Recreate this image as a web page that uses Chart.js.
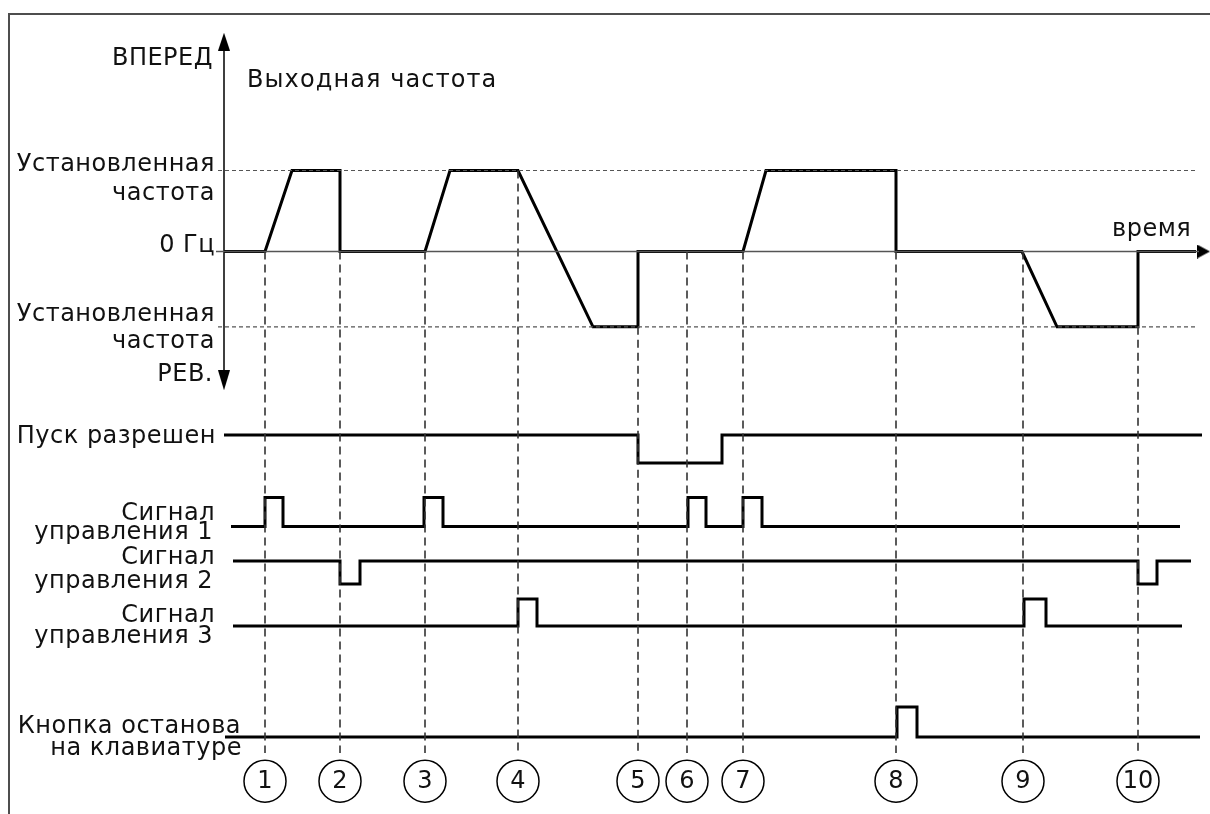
<!DOCTYPE html>
<html>
<head>
<meta charset="utf-8">
<script src="https://cdn.jsdelivr.net/npm/chart.js@4"></script>
<style>
  body { margin: 0; background: #fff; }
  #wrap { position: relative; width: 1210px; height: 814px; }
  #frame { position: absolute; left: 8px; top: 13px; right: -4px; bottom: -4px; border-top: 2px solid #4d4d4d; border-left: 2px solid #4d4d4d; pointer-events: none; }
</style>
</head>
<body>
<div id="wrap"><canvas id="diagram"></canvas><div id="frame"></div></div>
<script>
// моменты событий 1..10 (условные единицы времени от оси)
const eventTimes = [4.1, 11.6, 20.1, 29.4, 41.4, 46.3, 51.9, 67.2, 79.9, 91.4];
const eventNames = ['1', '2', '3', '4', '5', '6', '7', '8', '9', '10'];
// уровень частоты, с которого начинается пунктир события
const eventTop = [0, 0, 0, 1, -0.93, 0, 0, 0, 0, -0.93];

// выходная частота (1 = установленная частота вперед, отрицательное = реверс)
const setFreq = 1;
const revFreq = -0.93;
const freqTime  = [0, 4.1, 6.8, 11.6, 11.6, 20.1, 22.6, 29.4, 36.9, 41.4, 41.4, 51.9, 54.2, 67.2, 67.2, 79.8, 83.3, 91.4, 91.4, 97.2];
const freqLevel = [0, 0,   1,   1,    0,    0,    1,    1,    -0.93, -0.93, 0,  0,    1,    1,    0,    0,    -0.93, -0.93, 0, 0];

// дискретные сигналы: начало/конец линии, уровень покоя, импульсы [начало, конец]
const enableSpan = [0, 97.8], enableIdle = 1, enablePulses = [[41.4, 49.8]];
const sig1Span = [0.7, 95.6], sig1Idle = 0, sig1Pulses = [[4.1, 5.9], [20.0, 21.9], [46.4, 48.2], [51.9, 53.8]];
const sig2Span = [0.9, 96.7], sig2Idle = 1, sig2Pulses = [[11.6, 13.6], [91.4, 93.3]];
const sig3Span = [0.9, 95.8], sig3Idle = 0, sig3Pulses = [[29.4, 31.3], [80.0, 82.2]];
const stopSpan = [0.1, 97.6], stopIdle = 0, stopPulses = [[67.3, 69.3]];

const H = 814;
const FONT = '24px "DejaVu Sans"';

function steps(span, idle, pulses) {
  const pts = [{ x: span[0], y: idle }];
  pulses.forEach(([a, b]) => {
    pts.push({ x: a, y: idle }, { x: a, y: 1 - idle }, { x: b, y: 1 - idle }, { x: b, y: idle });
  });
  pts.push({ x: span[1], y: idle });
  return pts;
}

// ось строки: пиксель уровня 1 и уровня 0
function rowAxis(highPx, lowPx) {
  const u = lowPx - highPx;
  const max = lowPx / u;
  return { display: false, min: max - H / u, max: max };
}

function arrowHead(w, h) {
  const c = document.createElement('canvas');
  c.width = w; c.height = h;
  const g = c.getContext('2d');
  g.fillStyle = '#000';
  g.beginPath();
  g.moveTo(w / 2, 0); g.lineTo(w, h); g.lineTo(0, h); g.closePath();
  g.fill();
  return c;
}

const line = (data, yAxisID, extra) => Object.assign({
  data, yAxisID, showLine: true, pointRadius: 0, borderColor: '#000', borderWidth: 3,
  borderJoinStyle: 'miter', borderCapStyle: 'butt', tension: 0, clip: false
}, extra || {});

const datasets = [];

// пунктирные уровни установленной частоты
datasets.push(line([{ x: -0.6, y: setFreq }, { x: 97.1, y: setFreq }], 'yF', { borderColor: '#555', borderWidth: 1.2, borderDash: [4, 3] }));
datasets.push(line([{ x: -0.6, y: revFreq }, { x: 97.1, y: revFreq }], 'yF', { borderColor: '#555', borderWidth: 1.2, borderDash: [4, 3] }));
// ось 0 Гц
datasets.push(line([{ x: -0.8, y: 0 }, { x: 97.5, y: 0 }], 'yF', { borderColor: '#555', borderWidth: 1.5 }));
// вертикальная ось
datasets.push(line([{ x: 0, y: 2.5 }, { x: 0, y: -1.5 }], 'yF', { borderWidth: 1.5 }));

// пунктиры событий
eventTimes.forEach((t, i) => {
  datasets.push(line([{ x: t, y: eventTop[i] }, { x: t, y: -6.19 }], 'yF', { borderColor: '#333', borderWidth: 1.6, borderDash: [8, 5] }));
});

// выходная частота
datasets.push(line(freqTime.map((t, i) => ({ x: t, y: freqLevel[i] })), 'yF'));

// сигналы
datasets.push(line(steps(enableSpan, enableIdle, enablePulses), 'yEn'));
datasets.push(line(steps(sig1Span, sig1Idle, sig1Pulses), 'yS1'));
datasets.push(line(steps(sig2Span, sig2Idle, sig2Pulses), 'yS2'));
datasets.push(line(steps(sig3Span, sig3Idle, sig3Pulses), 'yS3'));
datasets.push(line(steps(stopSpan, stopIdle, stopPulses), 'yStop'));

// стрелки осей
datasets.push({ data: [{ x: 0, y: 2.59 }], yAxisID: 'yF', pointStyle: arrowHead(12, 18), pointRadius: 8, pointRotation: 0 });
datasets.push({ data: [{ x: 0, y: -1.59 }], yAxisID: 'yF', pointStyle: arrowHead(12, 20), pointRadius: 8, pointRotation: 180 });
datasets.push({ data: [{ x: 97.95, y: 0 }], yAxisID: 'yF', pointStyle: arrowHead(14, 13), pointRadius: 8, pointRotation: 90 });

// кружки с номерами событий
datasets.push({
  data: eventTimes.map(t => ({ x: t, y: -6.54 })), yAxisID: 'yF',
  pointStyle: 'circle', pointRadius: 21, pointBorderWidth: 1.5,
  pointBackgroundColor: '#fff', pointBorderColor: '#000'
});

const labels = [
  { text: 'ВПЕРЕД', x: 213, y: 65, align: 'right' },
  { text: 'Выходная частота', x: 247, y: 87, align: 'left', sp: 1.1 },
  { text: 'Установленная', x: 215, y: 171, align: 'right' },
  { text: 'частота', x: 215, y: 200, align: 'right' },
  { text: '0 Гц', x: 215, y: 252, align: 'right' },
  { text: 'время', x: 1112, y: 236, align: 'left' },
  { text: 'Установленная', x: 215, y: 321, align: 'right' },
  { text: 'частота', x: 215, y: 348, align: 'right' },
  { text: 'РЕВ.', x: 213, y: 381, align: 'right' },
  { text: 'Пуск разрешен', x: 216, y: 443, align: 'right' },
  { text: 'Сигнал', x: 215, y: 520, align: 'right' },
  { text: 'управления 1', x: 213, y: 539, align: 'right' },
  { text: 'Сигнал', x: 215, y: 564, align: 'right' },
  { text: 'управления 2', x: 213, y: 588, align: 'right' },
  { text: 'Сигнал', x: 215, y: 622, align: 'right' },
  { text: 'управления 3', x: 213, y: 643, align: 'right' },
  { text: 'Кнопка останова', x: 241, y: 733, align: 'right' },
  { text: 'на клавиатуре', x: 242, y: 755, align: 'right' }
];

const textPlugin = {
  id: 'texts',
  afterDatasetsDraw(chart) {
    const ctx = chart.ctx;
    const xs = chart.scales.x, ys = chart.scales.yF;
    ctx.save();
    ctx.font = FONT;
    ctx.fillStyle = '#111';
    ctx.textBaseline = 'alphabetic';
    labels.forEach(l => {
      ctx.letterSpacing = (l.sp || 0.5) + 'px';
      ctx.textAlign = l.align;
      ctx.fillText(l.text, l.x, l.y);
    });
    ctx.letterSpacing = '0px';
    ctx.textAlign = 'center';
    ctx.textBaseline = 'middle';
    eventTimes.forEach((t, i) => {
      ctx.fillText(eventNames[i], xs.getPixelForValue(t), ys.getPixelForValue(-6.54) + 1);
    });
    ctx.restore();
  }
};

new Chart(document.getElementById('diagram'), {
  type: 'scatter',
  data: { datasets },
  options: {
    responsive: true,
    maintainAspectRatio: false,
    animation: false,
    layout: { padding: 0, autoPadding: false },
    plugins: { legend: { display: false }, tooltip: { enabled: false } },
    scales: {
      x: { type: 'linear', display: false, min: -22.4, max: 98.6 },
      yF: { display: false, min: 251.5 / 81 - H / 81, max: 251.5 / 81 },
      yEn: rowAxis(435, 463),
      yS1: rowAxis(497.5, 526.5),
      yS2: rowAxis(561, 584),
      yS3: rowAxis(599, 626),
      yStop: rowAxis(707, 737)
    }
  },
  plugins: [textPlugin]
});
</script>
</body>
</html>
